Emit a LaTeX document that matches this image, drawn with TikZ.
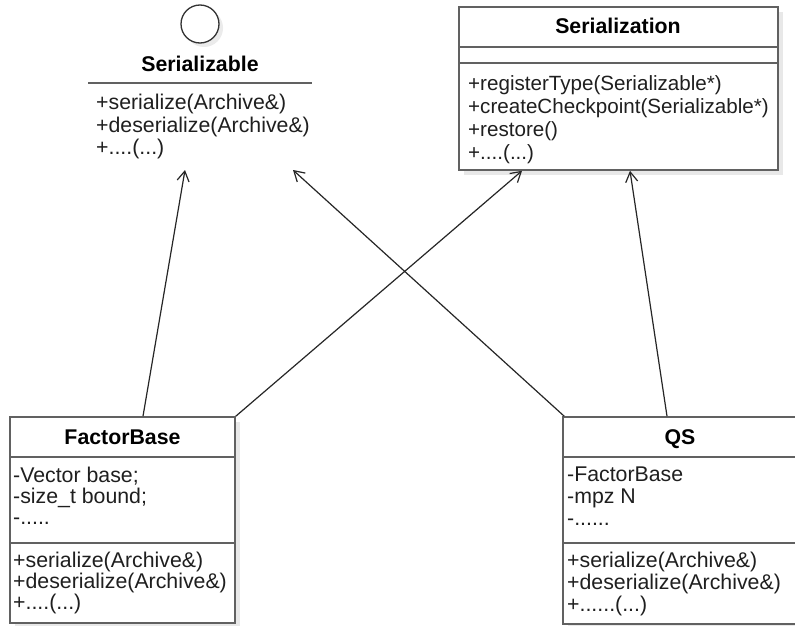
\documentclass[tikz,border=0pt]{standalone}
\usepackage{fontspec}
\setmainfont{Liberation Sans}
\usetikzlibrary{arrows.meta,shadows}
\begin{document}
\begin{tikzpicture}[x=1pt,y=-1pt,
  umlbox/.style={draw=black!62, line width=1.6pt, fill=white, inner sep=0pt,
    drop shadow={shadow xshift=5pt, shadow yshift=-5pt, fill=black!9, opacity=1}},
  sepline/.style={draw=black!62, line width=1.6pt},
  title/.style={font=\fontsize{21.3}{22}\selectfont\bfseries, anchor=base, inner sep=0pt},
  member/.style={font=\fontsize{21.3}{22}\selectfont, anchor=base west, inner sep=0pt, text=black!88},
  smallmember/.style={member, font=\fontsize{20.6}{22}\selectfont},
  relation/.style={draw=black!85, line width=1.2pt,
    -{Straight Barb[length=10pt,width=12pt,line width=1.2pt]}}]
\useasboundingbox (0,0) rectangle (795,626);
\fill[white] (0,0) rectangle (795,626);

% ---- interface Serializable (lollipop notation) ----
\fill[black!8] (204,28) circle (19);
\node[circle, draw=black!80, line width=1.3pt, fill=white, minimum size=38pt, inner sep=0pt] (iface) at (200,24) {};
\node[title] (serialTitle) at (200,71) {Serializable};
\draw[sepline] (88,83) -- (312,83);
\node[member] (s1) at (96,110) {+serialize(Archive\&)};
\node[member] (s2) at (96,132) {+deserialize(Archive\&)};
\node[member] (s3) at (96,154) {+....(...)};
\coordinate (ifaceA) at (185,170);
\coordinate (ifaceB) at (293,170);

% ---- class Serialization ----
\node[umlbox, minimum width=319pt, minimum height=163pt] (srz) at (618.5,88.5) {};
\node[title] at (618,34) {Serialization};
\draw[sepline] (srz.west |- 0,47) -- (srz.east |- 0,47);
\draw[sepline] (srz.west |- 0,63) -- (srz.east |- 0,63);
\node[smallmember] at (468,90) {+registerType(Serializable*)};
\node[smallmember] at (468,113) {+createCheckpoint(Serializable*)};
\node[smallmember] at (468,136) {+restore()};
\node[smallmember] at (468,159) {+....(...)};

% ---- class FactorBase ----
\node[umlbox, minimum width=225pt, minimum height=206pt] (fb) at (122.5,520) {};
\node[title] at (122.5,444) {FactorBase};
\draw[sepline] (fb.west |- 0,457) -- (fb.east |- 0,457);
\draw[sepline] (fb.west |- 0,543) -- (fb.east |- 0,543);
\node[member] at (13,482) {-Vector base;};
\node[member] at (13,503) {-size\_t bound;};
\node[member] at (13,524) {-.....};
\node[member] at (13,567) {+serialize(Archive\&)};
\node[member] at (13,588) {+deserialize(Archive\&)};
\node[member] at (13,609) {+....(...)};

% ---- class QS (runs past the right edge of the sheet) ----
\node[umlbox, minimum width=250pt, minimum height=207pt] (qs) at (688,520.5) {};
\node[title] at (680,444) {QS};
\draw[sepline] (qs.west |- 0,457) -- (qs.east |- 0,457);
\draw[sepline] (qs.west |- 0,543) -- (qs.east |- 0,543);
\node[member] at (567,481) {-FactorBase};
\node[member] at (567,503) {-mpz N};
\node[member] at (567,525) {-......};
\node[member] at (567,567) {+serialize(Archive\&)};
\node[member] at (567,589) {+deserialize(Archive\&)};
\node[member] at (567,611) {+......(...)};

% ---- relations ----
\draw[relation] ([xshift=20.5pt]fb.north) -- (ifaceA);
\draw[relation] (fb.north east) -- ([xshift=-96.5pt]srz.south);
\draw[relation] ([xshift=2pt]qs.north west) -- (ifaceB);
\draw[relation] ([xshift=-21pt]qs.north) -- ([xshift=11.5pt]srz.south);
\end{tikzpicture}
\end{document}
